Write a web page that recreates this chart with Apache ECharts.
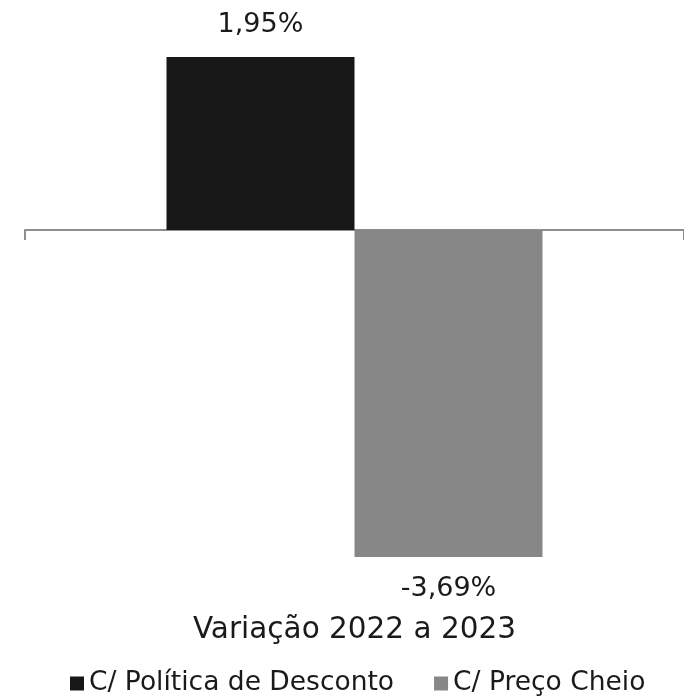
<!DOCTYPE html>
<html><head><meta charset="utf-8">
<script src="https://cdn.jsdelivr.net/npm/echarts@6/dist/echarts.min.js"></script>
<style>html,body{margin:0;padding:0;background:#fff}#c{width:684px;height:697px}</style>
</head><body><div id="c"></div>
<script>
const categories = ['Variação 2022 a 2023'];
const seriesNames = ['C/ Política de Desconto', 'C/ Preço Cheio'];
const descontoValues = [1.95];
const precoCheioValues = [-3.69];
const FONT = '"DejaVu Sans", sans-serif';
const fmt = v => v.toFixed(2).replace('.', ',') + '%';
const chart = echarts.init(document.getElementById('c'));
chart.setOption({
  animation: false,
  textStyle: {fontFamily: FONT, color: '#1a1a1a'},
  grid: {left: 25, right: 0, top: 52.6, height: 531.9},
  legend: {
    top: 670, left: 70, padding: 0, itemWidth: 14, itemHeight: 14, itemGap: 40,
    icon: 'rect',
    textStyle: {fontFamily: FONT, fontSize: 26.5, color: '#1a1a1a'},
    data: seriesNames
  },
  xAxis: [{
    type: 'category', data: categories,
    axisLine: {onZero: true, lineStyle: {color: '#8e8e8e', width: 2}},
    axisTick: {show: true, length: 10, lineStyle: {color: '#8e8e8e', width: 2}},
    axisLabel: {show: false}
  }, {
    type: 'category', data: categories, position: 'bottom',
    axisLine: {show: false, onZero: false}, axisTick: {show: false},
    axisLabel: {show: true, margin: 31, fontSize: 29.5, fontFamily: FONT, color: '#1a1a1a'}
  }],
  yAxis: {type: 'value', min: -4, max: 2, show: false, splitLine: {show: false}},
  series: [{
    name: seriesNames[0], type: 'bar', data: descontoValues, barWidth: 188, barGap: '0%',
    itemStyle: {color: '#171717'},
    label: {show: true, position: 'top', distance: 19, fontSize: 27, fontFamily: FONT, color: '#1a1a1a', formatter: p => fmt(p.value)}
  }, {
    name: seriesNames[1], type: 'bar', data: precoCheioValues, barWidth: 188, barGap: '0%',
    itemStyle: {color: '#878787'},
    label: {show: true, position: 'bottom', distance: 18, fontSize: 27, fontFamily: FONT, color: '#1a1a1a', formatter: p => fmt(p.value)}
  }]
});
</script></body></html>
